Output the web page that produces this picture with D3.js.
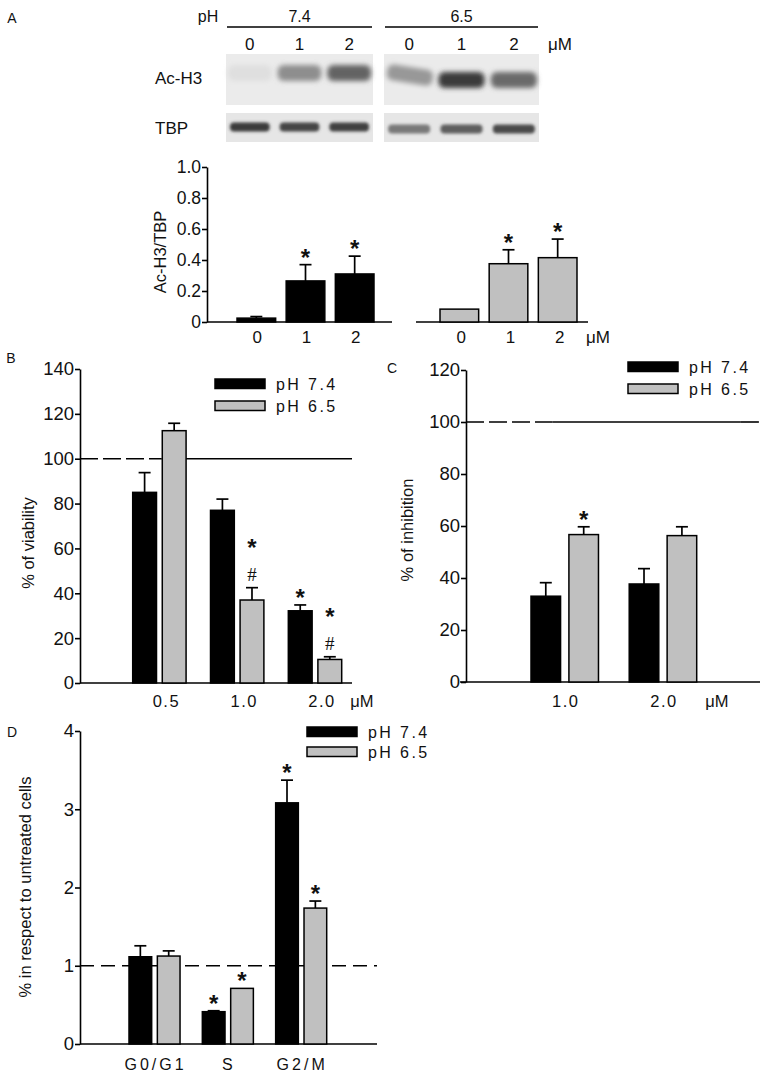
<!DOCTYPE html>
<html><head><meta charset="utf-8">
<script src="https://cdn.jsdelivr.net/npm/d3@7"></script>
<style>
body{margin:0;background:#fff;}
svg{display:block;font-family:"Liberation Sans",Arial,sans-serif;}
</style></head><body>
<svg id="fig" width="766" height="1076"></svg>
<script>
// ================= DATA =================
const seriesNames = ["pH 7.4", "pH 6.5"];
// Panel A – western blot (relative band darkness 0..1)
const blotConditions = ["7.4", "6.5"];
const blotLanes = ["0", "1", "2"];
const acH3Band74 = [0.06, 0.45, 0.65];
const acH3Band65 = [0.4, 0.85, 0.62];
const tbpBand74 = [0.85, 0.8, 0.82];
const tbpBand65 = [0.55, 0.68, 0.78];
// Panel A – densitometry
const aCategories = ["0", "1", "2"];
const aValues74 = [0.025, 0.265, 0.31];
const aErrors74 = [0.01, 0.105, 0.115];
const aValues65 = [0.083, 0.376, 0.415];
const aErrors65 = [0, 0.09, 0.12];
const aMarks74 = ["", "*", "*"];
const aMarks65 = ["", "*", "*"];
const aTicks = [0, 0.2, 0.4, 0.6, 0.8, 1.0];
// Panel B – viability
const bCategories = ["0.5", "1.0", "2.0"];
const bValues74 = [85, 77, 32.2];
const bErrors74 = [8.8, 5, 2.6];
const bValues65 = [112.5, 37, 10.5];
const bErrors65 = [3.3, 5.5, 1.2];
const bMarks74 = ["", "", "*"];
const bMarks65 = ["", "#*", "#*"];
const bTicks = [0, 20, 40, 60, 80, 100, 120, 140];
// Panel C – inhibition
const cCategories = ["1.0", "2.0"];
const cValues74 = [33, 37.7];
const cErrors74 = [5.2, 5.9];
const cValues65 = [56.7, 56.3];
const cErrors65 = [3, 3.4];
const cMarks74 = ["", ""];
const cMarks65 = ["*", ""];
const cTicks = [0, 20, 40, 60, 80, 100, 120];
// Panel D – cell cycle
const dCategories = ["G0/G1", "S", "G2/M"];
const dValues74 = [1.115, 0.413, 3.082];
const dErrors74 = [0.14, 0.012, 0.29];
const dValues65 = [1.124, 0.711, 1.737];
const dErrors65 = [0.066, 0, 0.09];
const dMarks74 = ["", "*", "*"];
const dMarks65 = ["", "*", "*"];
const dTicks = [0, 1, 2, 3, 4];

// ================= STYLE / LAYOUT =================
const GRAY = "#c0c0c0";
const INK = "#111";
const svg = d3.select("#fig");

function txt(g, x, y, s, o = {}) {
  const t = g.append("text").attr("x", x).attr("y", y).text(s)
    .attr("font-size", o.size || 17)
    .attr("text-anchor", o.anchor || "middle")
    .attr("dominant-baseline", o.baseline || "central")
    .attr("fill", INK);
  if (o.ls) t.attr("letter-spacing", o.ls);
  if (o.rotate) t.attr("transform", `rotate(${o.rotate},${x},${y})`);
  if (o.family) t.attr("font-family", o.family);
  if (o.weight) t.attr("font-weight", o.weight);
  return t;
}

function yAxis(g, y, ticks, x, fmt, size) {
  const ax = g.append("g").attr("transform", `translate(${x},0)`)
    .call(d3.axisLeft(y).tickValues(ticks).tickSize(5).tickSizeOuter(0).tickPadding(1).tickFormat(fmt));
  ax.select(".domain").attr("stroke", "#000").attr("stroke-width", 1.6);
  ax.selectAll(".tick line").attr("stroke", "#000").attr("stroke-width", 1.6);
  ax.selectAll(".tick text").attr("font-size", size).attr("fill", INK)
    .attr("font-family", "'Liberation Sans', Arial, sans-serif");
  return ax;
}

function baseLine(g, x1, x2, yv) {
  g.append("line").attr("x1", x1).attr("x2", x2).attr("y1", yv).attr("y2", yv)
    .attr("stroke", "#000").attr("stroke-width", 1.6);
}

function drawSeries(g, cats, vals, errs, marks, xPos, width, y, fill) {
  const data = cats.map((c, i) => ({ c, v: vals[i], e: errs[i], m: marks[i] || "" }));
  const eb = g.selectAll(null).data(data.filter(d => d.e > 0)).enter();
  eb.append("line")
    .attr("x1", d => xPos(d.c) + width / 2).attr("x2", d => xPos(d.c) + width / 2)
    .attr("y1", d => y(d.v)).attr("y2", d => y(d.v + d.e))
    .attr("stroke", "#000").attr("stroke-width", 1.7);
  eb.append("line")
    .attr("x1", d => xPos(d.c) + width / 2 - 6).attr("x2", d => xPos(d.c) + width / 2 + 6)
    .attr("y1", d => y(d.v + d.e)).attr("y2", d => y(d.v + d.e))
    .attr("stroke", "#000").attr("stroke-width", 1.7);
  g.selectAll(null).data(data).enter().append("rect")
    .attr("x", d => xPos(d.c)).attr("width", width)
    .attr("y", d => y(d.v)).attr("height", d => y(0) - y(d.v))
    .attr("fill", fill).attr("stroke", "#000").attr("stroke-width", 1.5);
  data.forEach(d => {
    const top = y(d.v + d.e);
    d.m.split("").forEach((m, k) => {
      const cy = top - 13 - k * 33;
      const cx = xPos(d.c) + width / 2;
      if (m === "*") {
        txt(g, cx, cy + 0.586 * 24, "*", { size: 24, baseline: "auto", weight: "bold" });
      } else {
        txt(g, cx, cy + 0.34 * 19, m, { size: 19, baseline: "auto", family: "'Liberation Serif', serif" });
      }
    });
  });
}

function legend(g, x, y0, y1) {
  const items = [{ name: seriesNames[0], fill: "#000", y: y0 }, { name: seriesNames[1], fill: GRAY, y: y1 }];
  items.forEach(it => {
    g.append("rect").attr("x", x).attr("y", it.y).attr("width", 50).attr("height", 9.5)
      .attr("fill", it.fill).attr("stroke", "#000").attr("stroke-width", 1.5);
    txt(g, x + 61, it.y + 5, it.name, { size: 16, anchor: "start", ls: 2.4 });
  });
}

function refLine(g, x1, x2, yv, segments) {
  segments.forEach(s => {
    g.append("line")
      .attr("x1", x1 + (x2 - x1) * s[0]).attr("x2", x1 + (x2 - x1) * s[1])
      .attr("y1", yv).attr("y2", yv)
      .attr("stroke", "#000").attr("stroke-width", 1.6)
      .attr("stroke-dasharray", s[2] ? "18,5" : null);
  });
}

// ================= PANEL A: BLOT =================
const gA = svg.append("g");
txt(gA, 12, 18, "A", { size: 14 });
const blot = {
  "7.4": { x: [226, 373] },
  "6.5": { x: [384, 539] }
};
const defs = svg.append("defs");
defs.append("filter").attr("id", "blur").attr("x", "-20%").attr("y", "-60%").attr("width", "140%").attr("height", "220%")
  .append("feGaussianBlur").attr("stdDeviation", 2.4);
defs.append("filter").attr("id", "blur2").attr("x", "-20%").attr("y", "-60%").attr("width", "140%").attr("height", "220%")
  .append("feGaussianBlur").attr("stdDeviation", 1.5);
const bandColor = d3.interpolateRgb("#ebebeb", "#1c1c1c");

txt(gA, 208, 16, "pH", { size: 16 });
txt(gA, 155, 78, "Ac-H3", { size: 17, anchor: "start" });
txt(gA, 155, 128, "TBP", { size: 17, anchor: "start" });

blotConditions.forEach((cond, ci) => {
  const bx = blot[cond].x;
  const lane = d3.scaleBand().domain(blotLanes).range(bx).paddingInner(0.12).paddingOuter(0.04);
  txt(gA, (bx[0] + bx[1]) / 2, 16, cond, { size: 16 });
  gA.append("line").attr("x1", bx[0] + 1).attr("x2", bx[1] - 1).attr("y1", 27).attr("y2", 27)
    .attr("stroke", "#000").attr("stroke-width", 1.6);
  blotLanes.forEach(l => txt(gA, lane(l) + lane.bandwidth() / 2, 44, l, { size: 17 }));
  gA.append("rect").attr("x", bx[0]).attr("y", 54).attr("width", bx[1] - bx[0]).attr("height", 51).attr("fill", "#ebebeb");
  gA.append("rect").attr("x", bx[0]).attr("y", 113).attr("width", bx[1] - bx[0]).attr("height", 29).attr("fill", "#e6e6e6");
  const acVals = ci === 0 ? acH3Band74 : acH3Band65;
  const tbVals = ci === 0 ? tbpBand74 : tbpBand65;
  const acY = ci === 0 ? 73 : 80;
  const tbY = ci === 0 ? 127 : 129;
  blotLanes.forEach((l, i) => {
    gA.append("rect").attr("x", lane(l)).attr("y", acY - 8 + (ci === 1 && i === 0 ? -5 : 0))
      .attr("width", lane.bandwidth()).attr("height", 16).attr("rx", 6)
      .attr("fill", bandColor(acVals[i])).attr("filter", "url(#blur)")
      .attr("transform", ci === 1 && i === 0 ? `rotate(9,${lane(l) + lane.bandwidth() / 2},${acY})` : null);
    gA.append("rect").attr("x", lane(l) + 2).attr("y", tbY - 4.5)
      .attr("width", lane.bandwidth() - 4).attr("height", 9).attr("rx", 4)
      .attr("fill", bandColor(tbVals[i])).attr("filter", "url(#blur2)");
  });
});
txt(gA, 560, 44, "\u03bcM", { size: 17 });

// ================= PANEL A: DENSITOMETRY =================
const yA = d3.scaleLinear().domain([0, 1]).range([322, 167]);
yAxis(gA, yA, aTicks, 207, d => d === 0 ? "0" : d3.format(".1f")(d), 17.5);
const xAL = d3.scaleBand().domain(aCategories).range([231.75, 379.25]).paddingInner(0.214).paddingOuter(0.107);
const xAR = d3.scaleBand().domain(aCategories).range([434.75, 582.25]).paddingInner(0.214).paddingOuter(0.107);
baseLine(gA, 207, 392, yA(0));
baseLine(gA, 416, 588, yA(0));
drawSeries(gA, aCategories, aValues74, aErrors74, aMarks74, xAL, xAL.bandwidth(), yA, "#000");
drawSeries(gA, aCategories, aValues65, aErrors65, aMarks65, xAR, xAR.bandwidth(), yA, GRAY);
aCategories.forEach(c => {
  txt(gA, xAL(c) + xAL.bandwidth() / 2 + 1, 337, c, { size: 17 });
  txt(gA, xAR(c) + xAR.bandwidth() / 2 + 2, 337, c, { size: 17 });
});
txt(gA, 598, 337, "\u03bcM", { size: 17 });
txt(gA, 160, 252, "Ac-H3/TBP", { size: 16.5, rotate: -90 });

// ================= PANEL B =================
const gB = svg.append("g");
txt(gB, 11, 358, "B", { size: 14 });
const yB = d3.scaleLinear().domain([0, 140]).range([683, 369]);
const xB = d3.scaleBand().domain(bCategories).range([132.7, 341.7]).paddingInner(0.314).paddingOuter(0);
const xBi = d3.scaleBand().domain(seriesNames).range([0, xB.bandwidth()]).paddingInner(0.195);
refLine(gB, 80, 352, yB(100), [[0, 0.3, true], [0.3, 1, false]]);
yAxis(gB, yB, bTicks, 80, d3.format("d"), 18.5);
baseLine(gB, 80, 352, yB(0));
drawSeries(gB, bCategories, bValues74, bErrors74, bMarks74, c => xB(c) + xBi(seriesNames[0]), xBi.bandwidth(), yB, "#000");
drawSeries(gB, bCategories, bValues65, bErrors65, bMarks65, c => xB(c) + xBi(seriesNames[1]), xBi.bandwidth(), yB, GRAY);
bCategories.forEach(c => txt(gB, xB(c) + xB.bandwidth() / 2 + 7, 701, c, { size: 16.5, ls: 1.5 }));
txt(gB, 362, 701, "\u03bcM", { size: 16.5 });
legend(gB, 215, 379, 401);
txt(gB, 28, 543, "% of viability", { size: 16.5, rotate: -90 });

// ================= PANEL C =================
const gC = svg.append("g");
txt(gC, 392, 368, "C", { size: 14 });
const yC = d3.scaleLinear().domain([0, 120]).range([682, 370]);
const xC = d3.scaleBand().domain(cCategories).range([531, 696.7]).paddingInner(0.313).paddingOuter(0);
const xCi = d3.scaleBand().domain(seriesNames).range([0, xC.bandwidth()]).paddingInner(0.22);
refLine(gC, 466, 760, yC(100), [[0, 0.295, true], [0.295, 0.935, false], [0.935, 1, true]]);
yAxis(gC, yC, cTicks, 466, d3.format("d"), 18.5);
baseLine(gC, 460, 760, yC(0));
drawSeries(gC, cCategories, cValues74, cErrors74, cMarks74, c => xC(c) + xCi(seriesNames[0]), xCi.bandwidth(), yC, "#000");
drawSeries(gC, cCategories, cValues65, cErrors65, cMarks65, c => xC(c) + xCi(seriesNames[1]), xCi.bandwidth(), yC, GRAY);
cCategories.forEach(c => txt(gC, xC(c) + xC.bandwidth() / 2 + 1, 701, c, { size: 16.5, ls: 1.5 }));
txt(gC, 717, 701, "\u03bcM", { size: 16.5 });
legend(gC, 628, 362, 384);
txt(gC, 407, 530, "% of inhibition", { size: 16.5, rotate: -90 });

// ================= PANEL D =================
const gD = svg.append("g");
txt(gD, 12, 732, "D", { size: 14 });
const yD = d3.scaleLinear().domain([0, 4]).range([1044, 731]);
const xD = d3.scaleBand().domain(dCategories).range([129, 326.7]).paddingInner(0.304).paddingOuter(0);
const xDi = d3.scaleBand().domain(seriesNames).range([0, xD.bandwidth()]).paddingInner(0.2);
gD.append("line").attr("x1", 80).attr("x2", 377).attr("y1", yD(1)).attr("y2", yD(1))
  .attr("stroke", "#000").attr("stroke-width", 1.6).attr("stroke-dasharray", "14,7");
yAxis(gD, yD, dTicks, 80, d3.format("d"), 18.5);
baseLine(gD, 80, 377, yD(0));
drawSeries(gD, dCategories, dValues74, dErrors74, dMarks74, c => xD(c) + xDi(seriesNames[0]), xDi.bandwidth(), yD, "#000");
drawSeries(gD, dCategories, dValues65, dErrors65, dMarks65, c => xD(c) + xDi(seriesNames[1]), xDi.bandwidth(), yD, GRAY);
dCategories.forEach(c => txt(gD, xD(c) + xD.bandwidth() / 2 + 1, 1064, c, { size: 16, ls: 3 }));
legend(gD, 307, 727, 747);
txt(gD, 25, 887, "% in respect to untreated cells", { size: 16.5, rotate: -90 });
</script>
</body></html>
